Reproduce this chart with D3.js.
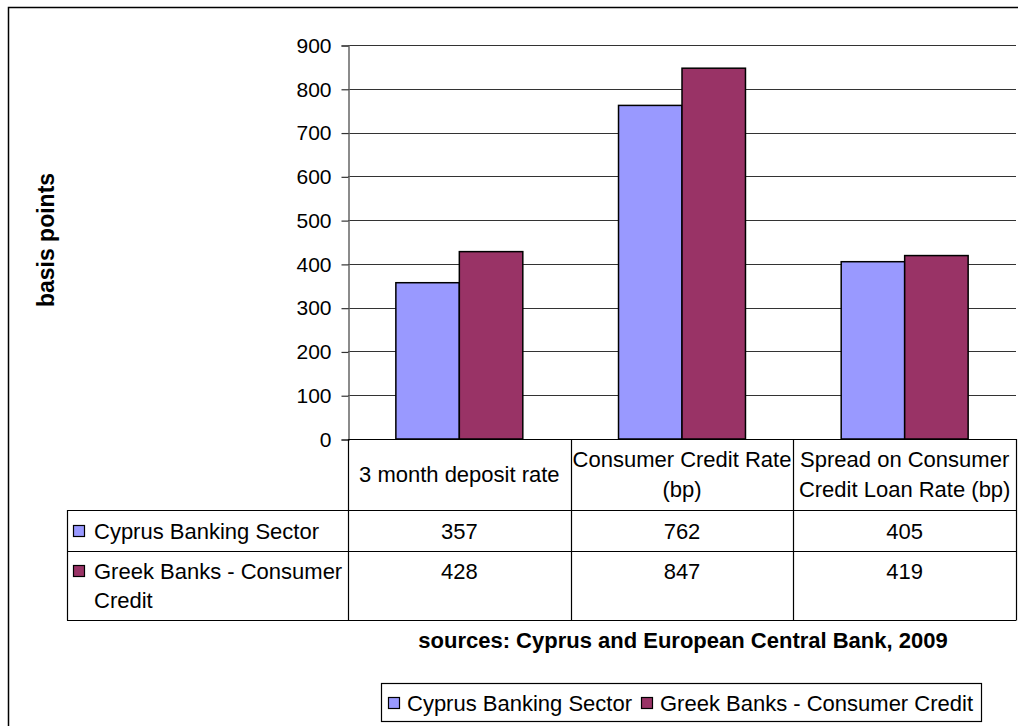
<!DOCTYPE html>
<html>
<head>
<meta charset="utf-8">
<script src="https://cdn.jsdelivr.net/npm/d3@7"></script>
<style>
  html, body { margin: 0; padding: 0; background: #fff; }
  svg { display: block; font-family: "Liberation Sans", Arial, sans-serif; }
</style>
</head>
<body>
<svg id="chart" width="1022" height="726"></svg>
<script>
// Chart data
const categories = ["3 month deposit rate", "Consumer Credit Rate (bp)", "Spread on Consumer Credit Loan Rate (bp)"];
const categoryLines = [["3 month deposit rate"], ["Consumer Credit Rate", "(bp)"], ["Spread on Consumer", "Credit Loan Rate (bp)"]];
const seriesNames = ["Cyprus Banking Sector", "Greek Banks - Consumer Credit"];
const seriesLines = [["Cyprus Banking Sector"], ["Greek Banks - Consumer", "Credit"]];
const cyprusValues = [357, 762, 405];
const greekValues = [428, 847, 419];
const yTicks = [0, 100, 200, 300, 400, 500, 600, 700, 800, 900];
const seriesColors = ["#9999FF", "#993366"];
const yTitle = "basis points";
const sourceNote = "sources: Cyprus and European Central Bank, 2009";

const seriesValues = [cyprusValues, greekValues];

const svg = d3.select("#chart");
const FS_TICK = 21;
const FS = 22;

// Outer chart frame
svg.append("path")
  .attr("d", "M8.5,726 V7.5 H1018")
  .attr("fill", "none").attr("stroke", "#000").attr("stroke-width", 1.5);

// Plot area
const plotLeft = 348, plotRight = 1016, plotTop = 45, plotBottom = 439;

const x = d3.scaleBand().domain(categories).range([plotLeft, plotRight]).padding(0);
const xInner = d3.scaleBand().domain(seriesNames).range([0, x.bandwidth()])
  .paddingInner(0).paddingOuter(0.754);
const y = d3.scaleLinear().domain([0, 900]).range([plotBottom, plotTop]);

// Gridlines
svg.append("g").selectAll("line").data(yTicks.filter(d => d > 0)).join("line")
  .attr("x1", plotLeft).attr("x2", plotRight)
  .attr("y1", d => Math.round(y(d)) + 0.5).attr("y2", d => Math.round(y(d)) + 0.5)
  .attr("stroke", "#333").attr("stroke-width", 1.2);

// Y axis
const yAxis = d3.axisLeft(y).tickValues(yTicks).tickSize(7).tickPadding(10).tickFormat(d3.format("d"));
const gy = svg.append("g").attr("transform", `translate(${plotLeft + 0.5},0.5)`).call(yAxis);
gy.select(".domain").attr("stroke", "#666").attr("stroke-width", 1.5);
gy.selectAll(".tick line").attr("stroke", "#333").attr("stroke-width", 1.2);
gy.selectAll(".tick text").attr("font-size", FS_TICK).attr("fill", "#000")
  .attr("font-family", "'Liberation Sans', Arial, sans-serif");

// Bars
const groups = svg.append("g").selectAll("g").data(categories).join("g")
  .attr("transform", d => `translate(${x(d)},0)`);
groups.selectAll("rect")
  .data((d, i) => seriesNames.map((s, j) => ({ s, j, v: seriesValues[j][i] })))
  .join("rect")
  .attr("x", d => xInner(d.s))
  .attr("width", xInner.bandwidth())
  .attr("y", d => y(d.v))
  .attr("height", d => y(0) - y(d.v))
  .attr("fill", d => seriesColors[d.j])
  .attr("stroke", "#000").attr("stroke-width", 1.5);

// Data table
const tableLeft = 67, headerBottom = 510, row1Bottom = 551, row2Bottom = 620;
const tbl = svg.append("g").attr("stroke", "#000").attr("stroke-width", 1.2);
// baseline / table top
tbl.append("line").attr("x1", plotLeft).attr("x2", plotRight).attr("y1", plotBottom + 0.5).attr("y2", plotBottom + 0.5);
[headerBottom, row1Bottom, row2Bottom].forEach(yy => {
  tbl.append("line").attr("x1", tableLeft).attr("x2", plotRight).attr("y1", yy + 0.5).attr("y2", yy + 0.5);
});
// column separators
const colEdges = categories.map(c => x(c)).concat([plotRight]);
colEdges.forEach(xx => {
  tbl.append("line").attr("x1", Math.round(xx) + 0.5).attr("x2", Math.round(xx) + 0.5)
    .attr("y1", plotBottom).attr("y2", row2Bottom + 0.5);
});
tbl.append("line").attr("x1", tableLeft + 0.5).attr("x2", tableLeft + 0.5).attr("y1", headerBottom).attr("y2", row2Bottom + 0.5);

const lineH = 29.5;
const txt = svg.append("g").attr("font-size", FS).attr("fill", "#000");

// Category headers
categories.forEach((c, i) => {
  const lines = categoryLines[i];
  const cy = (plotBottom + headerBottom) / 2;
  const first = cy - (lines.length - 1) * lineH / 2;
  lines.forEach((ln, k) => {
    txt.append("text").attr("x", x(c) + x.bandwidth() / 2).attr("y", first + k * lineH)
      .attr("dy", "0.35em").attr("text-anchor", "middle").text(ln);
  });
});

// Series rows
const rowFirstLine = [531, 571];
seriesNames.forEach((s, j) => {
  svg.append("rect").attr("x", 73.5).attr("y", rowFirstLine[j] - 5.5).attr("width", 11).attr("height", 11)
    .attr("fill", seriesColors[j]).attr("stroke", "#000").attr("stroke-width", 1.2);
  seriesLines[j].forEach((ln, k) => {
    txt.append("text").attr("x", 94).attr("y", rowFirstLine[j] + k * lineH).attr("dy", "0.35em").text(ln);
  });
  categories.forEach((c, i) => {
    txt.append("text").attr("x", x(c) + x.bandwidth() / 2).attr("y", rowFirstLine[j])
      .attr("dy", "0.35em").attr("text-anchor", "middle").text(seriesValues[j][i]);
  });
});

// Y axis title
svg.append("text")
  .attr("transform", "translate(46,240) rotate(-90)")
  .attr("text-anchor", "middle").attr("dy", "0.35em")
  .attr("font-size", 23).attr("font-weight", "bold").text(yTitle);

// Source note
svg.append("text").attr("x", 683).attr("y", 640).attr("dy", "0.35em")
  .attr("text-anchor", "middle").attr("font-size", FS).attr("font-weight", "bold").text(sourceNote);

// Legend
const legend = svg.append("g");
legend.append("rect").attr("x", 381.5).attr("y", 683.5).attr("width", 600).attr("height", 38)
  .attr("fill", "#fff").attr("stroke", "#000").attr("stroke-width", 1.2);
const legendX = [388, 641];
seriesNames.forEach((s, j) => {
  legend.append("rect").attr("x", legendX[j] + 0.5).attr("y", 697.5).attr("width", 11).attr("height", 11)
    .attr("fill", seriesColors[j]).attr("stroke", "#000").attr("stroke-width", 1.2);
  legend.append("text").attr("x", legendX[j] + 19).attr("y", 703).attr("dy", "0.35em")
    .attr("font-size", FS).text(s);
});
</script>
</body>
</html>
